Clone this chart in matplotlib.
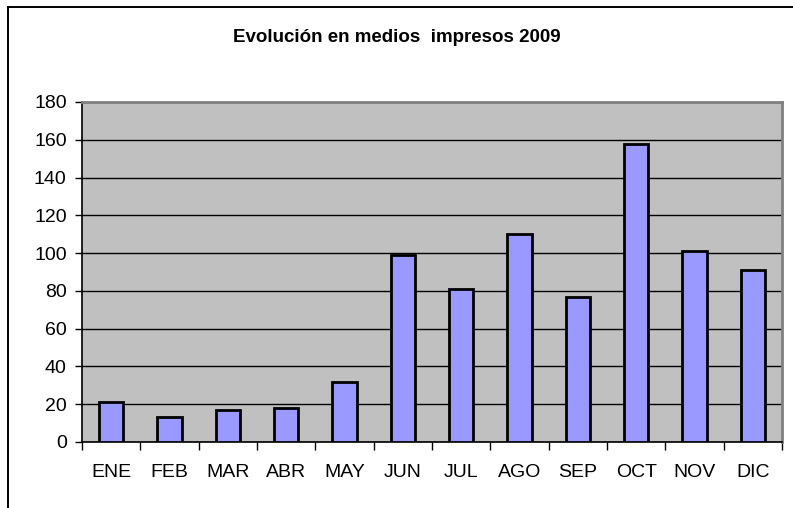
import matplotlib.pyplot as plt
from matplotlib.lines import Line2D

# Data
meses = ["ENE", "FEB", "MAR", "ABR", "MAY", "JUN", "JUL", "AGO", "SEP", "OCT", "NOV", "DIC"]
valores = [21, 13, 17, 18, 32, 99, 81, 110, 77, 158, 101, 91]
y_ticks = [0, 20, 40, 60, 80, 100, 120, 140, 160, 180]

plt.rcParams['font.family'] = ['Liberation Sans', 'DejaVu Sans']

fig = plt.figure(figsize=(7.93, 5.08), dpi=100)

# outer chart border (only top and left visible in the crop)
fx, fy = 7.5 / 793, 1 - 6.5 / 508
fig.lines.append(Line2D([fx, 1.0], [fy, fy], transform=fig.transFigure,
                        color='black', linewidth=1.4))
fig.lines.append(Line2D([fx, fx], [0.0, fy], transform=fig.transFigure,
                        color='black', linewidth=1.4))

ax = fig.add_axes([82 / 793, 66 / 508, 700 / 793, 340 / 508])
ax.set_facecolor('#C0C0C0')

x = list(range(len(meses)))
ax.bar(x, valores, width=0.42, color='#9999FF', edgecolor='black', linewidth=2, zorder=3)

ax.set_xlim(-0.5, len(meses) - 0.5)
ax.set_ylim(0, 180)
ax.set_yticks(y_ticks)
ax.yaxis.grid(True, color='black', linewidth=1, zorder=1)
ax.set_axisbelow(True)

# category labels in the middle, tick marks on the boundaries
ax.set_xticks(x)
ax.set_xticklabels(meses)
ax.set_xticks([i - 0.5 for i in range(len(meses) + 1)], minor=True)
ax.tick_params(axis='x', which='major', length=0, pad=16, labelsize=14)
ax.tick_params(axis='x', which='minor', length=6, width=1, color='black', direction='out')
ax.tick_params(axis='y', length=5, width=1, pad=6, labelsize=14)

for s in ['left', 'bottom']:
    ax.spines[s].set_color('black')
    ax.spines[s].set_linewidth(1.2)
for s in ['top', 'right']:
    ax.spines[s].set_color('#808080')
    ax.spines[s].set_linewidth(2)

fig.text(397 / 793, 1 - 37 / 508, "Evolución en medios  impresos 2009",
         ha='center', va='center', fontsize=13.5, fontweight='bold')

fig.savefig('out.png', dpi=100)
